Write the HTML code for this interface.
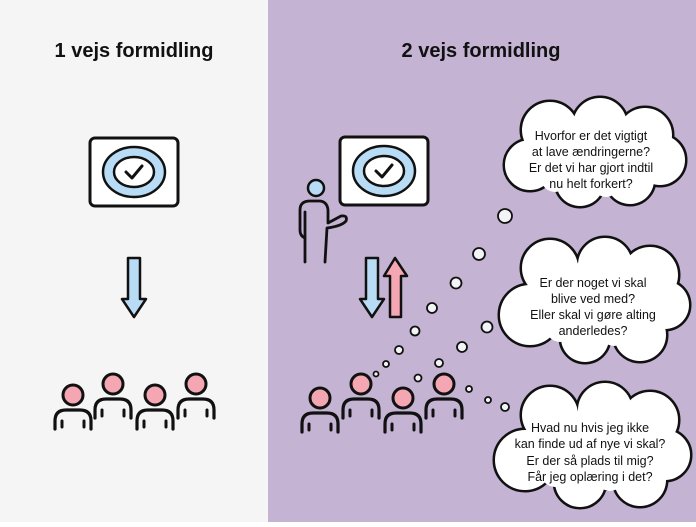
<!DOCTYPE html>
<html><head><meta charset="utf-8"><style>
html,body{margin:0;padding:0}
body{width:696px;height:522px;overflow:hidden;font-family:"Liberation Sans",sans-serif}
</style></head><body>
<svg width="696" height="522" viewBox="0 0 696 522" xmlns="http://www.w3.org/2000/svg">
<defs>
<g id="p">
<path d="M-18 34 V26 Q-18 15 -7 15 H7 Q18 15 18 26 V34" fill="none" stroke="#111" stroke-width="3.2" stroke-linecap="round"/>
<path d="M-11 26 V32 M11 26 V32" stroke="#111" stroke-width="3" stroke-linecap="round"/>
<circle r="10" fill="#f4a7b2" stroke="#111" stroke-width="3"/>
</g>
<g id="b">
<rect x="0" y="0" width="88" height="68" rx="5" fill="#fff" stroke="#111" stroke-width="3"/>
<ellipse cx="44" cy="34" rx="31" ry="25" fill="#b8dcf6" stroke="#111" stroke-width="2.5"/>
<ellipse cx="44" cy="34" rx="20" ry="15" fill="#fff" stroke="#111" stroke-width="2.5"/>
<path d="M36 34 L42 40 L52 28" fill="none" stroke="#111" stroke-width="3" stroke-linecap="round" stroke-linejoin="round"/>
</g>
<g id="c1">
<circle cx="550" cy="130" r="28"/><circle cx="600" cy="125" r="27"/><circle cx="645" cy="135" r="27"/><circle cx="660" cy="160" r="25"/>
<circle cx="630" cy="180" r="24"/><circle cx="580" cy="182" r="24"/><circle cx="530" cy="165" r="25"/><circle cx="595" cy="152" r="35"/>
<circle cx="550" cy="268" r="28"/><circle cx="605" cy="265" r="27"/><circle cx="650" cy="275" r="28"/><circle cx="665" cy="305" r="24"/>
<circle cx="640" cy="335" r="26"/><circle cx="585" cy="338" r="24"/><circle cx="530" cy="315" r="30"/><circle cx="595" cy="305" r="40"/>
<circle cx="550" cy="415" r="28"/><circle cx="605" cy="410" r="27"/><circle cx="650" cy="420" r="28"/><circle cx="665" cy="455" r="25"/>
<circle cx="640" cy="480" r="26"/><circle cx="580" cy="482" r="25"/><circle cx="525" cy="460" r="30"/><circle cx="595" cy="450" r="40"/>
</g>
</defs>
<rect width="268" height="522" fill="#f5f5f5"/>
<rect x="268" width="428" height="522" fill="#c4b3d3"/>
<text x="134" y="57" text-anchor="middle" font-size="20" font-weight="bold" fill="#111">1 vejs formidling</text>
<text x="481" y="57" text-anchor="middle" font-size="20" font-weight="bold" fill="#111">2 vejs formidling</text>

<use href="#b" x="90" y="138"/>
<use href="#b" x="340" y="137"/>

<path d="M128 258 H140 V299 H146 L134 317 L122 299 H128 Z" fill="#b8dcf6" stroke="#111" stroke-width="2.5" stroke-linejoin="round"/>
<path d="M366 258 H378 V299 H384 L372 317 L360 299 H366 Z" fill="#b8dcf6" stroke="#111" stroke-width="2.5" stroke-linejoin="round"/>
<path d="M390 317 H401 V276 H407 L395 258 L384 276 H390 Z" fill="#f4a7b2" stroke="#111" stroke-width="2.5" stroke-linejoin="round"/>

<circle cx="316" cy="188" r="8" fill="#b8dcf6" stroke="#111" stroke-width="2.5"/>
<path d="M305 262 V238 Q300 236 300 230 V210 Q300 201 310 201 H319 Q327 201 328 210 V223 L341 216 Q348 215 346 221 Q342 226 327 228 L325 262" fill="none" stroke="#111" stroke-width="2.8" stroke-linecap="round" stroke-linejoin="round"/>
<path d="M305 212 V238" stroke="#111" stroke-width="2.8" stroke-linecap="round"/>

<use href="#p" x="73" y="395"/><use href="#p" x="113" y="384"/><use href="#p" x="155" y="395"/><use href="#p" x="196" y="384"/>
<use href="#p" x="320" y="398"/><use href="#p" x="361" y="384"/><use href="#p" x="403" y="398"/><use href="#p" x="444" y="384"/>

<g fill="#f2f4f6" stroke="#111" stroke-width="1.8">
<circle cx="505" cy="216" r="7"/><circle cx="479" cy="254" r="6"/><circle cx="456" cy="283" r="5.5"/>
<circle cx="432" cy="308" r="5"/><circle cx="415" cy="331" r="4.5"/><circle cx="399" cy="350" r="4"/>
<circle cx="386" cy="364" r="3"/><circle cx="376" cy="374" r="2.5"/>
<circle cx="487" cy="327" r="5.5"/><circle cx="462" cy="347" r="5"/><circle cx="439" cy="363" r="4"/>
<circle cx="418" cy="378" r="3.5"/><circle cx="469" cy="389" r="3"/><circle cx="488" cy="400" r="3"/><circle cx="505" cy="407" r="4"/>
</g>

<use href="#c1" fill="#111" stroke="#111" stroke-width="5"/>
<use href="#c1" fill="#fff"/>
<g fill="#fff">
<ellipse cx="595" cy="155" rx="70" ry="32"/>
<ellipse cx="595" cy="302" rx="72" ry="40"/>
<ellipse cx="592" cy="450" rx="72" ry="40"/>
<circle cx="555" cy="178" r="14"/><circle cx="606" cy="184" r="13"/><circle cx="625" cy="165" r="20"/><circle cx="565" cy="158" r="22"/><circle cx="545" cy="165" r="18"/>
<circle cx="555" cy="300" r="22"/><circle cx="635" cy="305" r="22"/><circle cx="560" cy="328" r="14"/><circle cx="614" cy="332" r="14"/>
<circle cx="555" cy="445" r="22"/><circle cx="635" cy="447" r="22"/><circle cx="555" cy="473" r="14"/><circle cx="610" cy="477" r="14"/><circle cx="645" cy="458" r="16"/>
</g>
<g font-size="12.5" fill="#111" text-anchor="middle">
<text x="591" y="140">Hvorfor er det vigtigt</text>
<text x="591" y="156">at lave ændringerne?</text>
<text x="591" y="172">Er det vi har gjort indtil</text>
<text x="591" y="188">nu helt forkert?</text>
<text x="593" y="287">Er der noget vi skal</text>
<text x="593" y="303">blive ved med?</text>
<text x="593" y="319">Eller skal vi gøre alting</text>
<text x="593" y="335">anderledes?</text>
<text x="590" y="432">Hvad nu hvis jeg ikke</text>
<text x="590" y="448">kan finde ud af nye vi skal?</text>
<text x="590" y="465">Er der så plads til mig?</text>
<text x="590" y="481">Får jeg oplæring i det?</text>
</g>
</svg>
</body></html>
